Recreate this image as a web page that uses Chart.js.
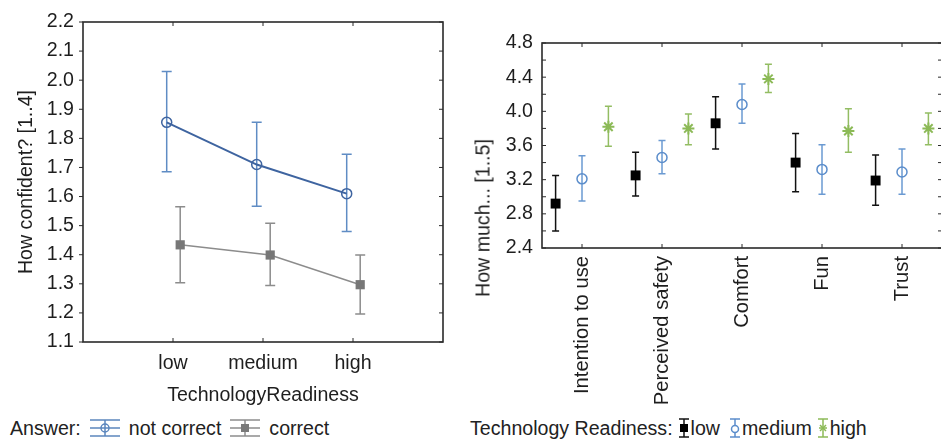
<!DOCTYPE html>
<html>
<head>
<meta charset="utf-8">
<script src="https://cdn.jsdelivr.net/npm/chart.js@4.4.1/dist/chart.umd.min.js"></script>
<style>
  html, body { margin: 0; padding: 0; background: #fff; }
  body { width: 941px; height: 440px; overflow: hidden; position: relative;
         font-family: "Liberation Sans", Arial, sans-serif; color: #222; }
  #left  { position: absolute; left: 0;   top: 0; }
  #right { position: absolute; left: 470px; top: 0; }
  .ytitle { position: absolute; white-space: nowrap; font-size: 19.6px;
            transform: translate(-50%, -50%) rotate(-90deg); }
  .legend { position: absolute; top: 417px; display: flex; align-items: center;
            font-size: 19.6px; white-space: nowrap; line-height: 22px; }
  .legend svg { display: block; }
</style>
</head>
<body>
<canvas id="left" width="470" height="410"></canvas>
<canvas id="right" width="480" height="410"></canvas>
<div class="ytitle" style="left:483px; top:218px;">How much... [1..5]</div>

<div class="legend" style="left:10px;">
  <span>Answer:</span>
  <svg width="32" height="22" style="margin:0 8px 0 8px">
    <g stroke="#5b86bd" stroke-width="1.5" fill="none">
      <line x1="1" y1="3" x2="31" y2="3"/><line x1="1" y1="19" x2="31" y2="19"/>
      <line x1="1" y1="11" x2="31" y2="11"/><line x1="16" y1="3" x2="16" y2="19"/>
      <circle cx="16" cy="11" r="4"/>
    </g>
  </svg>
  <span>not correct</span>
  <svg width="32" height="22" style="margin:0 8px 0 8px">
    <g stroke="#8c8c8c" stroke-width="1.5" fill="none">
      <line x1="1" y1="3" x2="31" y2="3"/><line x1="1" y1="19" x2="31" y2="19"/>
      <line x1="1" y1="11" x2="31" y2="11"/><line x1="16" y1="3" x2="16" y2="19"/>
    </g>
    <rect x="12" y="7" width="8" height="8" fill="#7a7a7a"/>
  </svg>
  <span>correct</span>
</div>

<div class="legend" style="left:470px;">
  <span>Technology Readiness:</span>
  <svg width="12" height="22" style="margin:0 1px 0 5px">
    <g stroke="#111" stroke-width="1.5"><line x1="1" y1="2" x2="11" y2="2"/><line x1="1" y1="20" x2="11" y2="20"/><line x1="6" y1="2" x2="6" y2="20"/></g>
    <rect x="2" y="7" width="8" height="8" fill="#000"/>
  </svg>
  <span>low</span>
  <svg width="12" height="22" style="margin:0 1px 0 9px">
    <g stroke="#5b8dcb" stroke-width="1.5" fill="none"><line x1="1" y1="2" x2="11" y2="2"/><line x1="1" y1="20" x2="11" y2="20"/><line x1="6" y1="2" x2="6" y2="20"/><circle cx="6" cy="12" r="3.5" fill="#fff"/></g>
  </svg>
  <span>medium</span>
  <svg width="12" height="22" style="margin:0 1px 0 5px">
    <g stroke="#8cba57" stroke-width="1.5"><line x1="1" y1="2" x2="11" y2="2"/><line x1="1" y1="20" x2="11" y2="20"/><line x1="6" y1="2" x2="6" y2="20"/>
    <line x1="2" y1="11" x2="10" y2="11"/><line x1="3" y1="8" x2="9" y2="14"/><line x1="9" y1="8" x2="3" y2="14"/></g>
  </svg>
  <span>high</span>
</div>

<script>
// ---- left panel: confidence by technology readiness ----
const readinessLevels = ["low", "medium", "high"];
const notCorrectMean  = [1.855, 1.71, 1.61];
const notCorrectLow   = [1.685, 1.567, 1.48];
const notCorrectHigh  = [2.03, 1.855, 1.745];
const correctMean     = [1.434, 1.399, 1.297];
const correctLow      = [1.304, 1.294, 1.196];
const correctHigh     = [1.565, 1.508, 1.399];
const confidenceTicks = { min: 1.1, max: 2.2, step: 0.1 };

// ---- right panel: ratings per aspect ----
const aspects   = ["Intention to use", "Perceived safety", "Comfort", "Fun", "Trust"];
const lowMean   = [2.92, 3.25, 3.86, 3.40, 3.19];
const lowLo     = [2.60, 3.01, 3.56, 3.06, 2.90];
const lowHi     = [3.25, 3.52, 4.17, 3.74, 3.49];
const medMean   = [3.21, 3.46, 4.08, 3.32, 3.29];
const medLo     = [2.95, 3.27, 3.86, 3.03, 3.03];
const medHi     = [3.48, 3.66, 4.32, 3.61, 3.56];
const highMean  = [3.82, 3.80, 4.38, 3.77, 3.80];
const highLo    = [3.59, 3.61, 4.22, 3.52, 3.61];
const highHi    = [4.06, 3.97, 4.55, 4.03, 3.98];
const ratingTicks = { min: 2.4, max: 4.8, step: 0.2, labelStep: 0.4 };

const FONT = { family: "'Liberation Sans', Arial, sans-serif", size: 19.6 };
const ROT_FONT = { family: "'Liberation Sans', Arial, sans-serif", size: 20.2 };
const TEXT = "#1e1e1e";

// error bars drawn under the markers, from per-dataset lo/hi arrays
const errorBars = {
  id: "errorBars",
  beforeDatasetsDraw(chart) {
    const { ctx, scales: { y } } = chart;
    chart.data.datasets.forEach((ds, i) => {
      const meta = chart.getDatasetMeta(i);
      ctx.save();
      ctx.strokeStyle = ds.errColor;
      ctx.lineWidth = ds.errWidth || 1.5;
      meta.data.forEach((pt, j) => {
        const t = y.getPixelForValue(ds.errHi[j]);
        const b = y.getPixelForValue(ds.errLo[j]);
        const c = ds.capHalf;
        ctx.beginPath();
        ctx.moveTo(pt.x, t); ctx.lineTo(pt.x, b);
        ctx.moveTo(pt.x - c, t); ctx.lineTo(pt.x + c, t);
        ctx.moveTo(pt.x - c, b); ctx.lineTo(pt.x + c, b);
        ctx.stroke();
      });
      ctx.restore();
    });
  },
};

// box around the plot with small tick marks on every side
const frame = {
  id: "frame",
  afterDraw(chart, args, opts) {
    const { ctx, chartArea: a, scales: { x, y } } = chart;
    const len = 4;
    ctx.save();
    ctx.strokeStyle = "#2a2a2a";
    ctx.lineWidth = 1.6;
    ctx.strokeRect(a.left, a.top, a.right - a.left, a.bottom - a.top);
    ctx.lineWidth = 1;
    ctx.beginPath();
    x.ticks.forEach(t => {
      const px = x.getPixelForValue(t.value);
      ctx.moveTo(px, a.bottom); ctx.lineTo(px, a.bottom - len);
      ctx.moveTo(px, a.top);    ctx.lineTo(px, a.top + len);
    });
    y.ticks.forEach(t => {
      const py = y.getPixelForValue(t.value);
      const d = opts.leftOut ? -len : len;
      ctx.moveTo(a.left, py);  ctx.lineTo(a.left + d, py);
      ctx.moveTo(a.right, py); ctx.lineTo(a.right - len, py);
    });
    ctx.stroke();
    ctx.restore();
  },
};

const pts = (vals, shift) => vals.map((v, i) => ({ x: i + 1 + shift, y: v }));
const categoryTicks = n => s => { s.ticks = Array.from({ length: n }, (_, i) => ({ value: i + 1 })); };

new Chart(document.getElementById("left"), {
  type: "scatter",
  data: {
    datasets: [
      {
        label: "not correct", data: pts(notCorrectMean, -0.07), showLine: true,
        borderColor: "#3e64a0", borderWidth: 2,
        pointStyle: "circle", pointRadius: 5, pointBorderWidth: 1.5,
        pointBorderColor: "#3e64a0", pointBackgroundColor: "rgba(0,0,0,0)",
        errLo: notCorrectLow, errHi: notCorrectHigh, errColor: "#5f8cc4", capHalf: 5,
      },
      {
        label: "correct", data: pts(correctMean, 0.08), showLine: true,
        borderColor: "#8c8c8c", borderWidth: 1.5,
        pointStyle: "rect", pointRadius: 6.5, pointBorderWidth: 0,
        pointBackgroundColor: "#777", pointBorderColor: "#777",
        errLo: correctLow, errHi: correctHigh, errColor: "#8c8c8c", capHalf: 5,
      },
    ],
  },
  options: {
    responsive: false, animation: false,
    layout: { padding: { top: 22, right: 27, left: 0, bottom: 0 } },
    plugins: { legend: { display: false }, tooltip: { enabled: false }, frame: { leftOut: true } },
    scales: {
      x: {
        type: "linear", min: 0, max: 4,
        afterBuildTicks: categoryTicks(readinessLevels.length),
        afterFit: s => { s.height = 68; },
        grid: { display: false, drawTicks: false }, border: { display: false },
        ticks: { color: TEXT, font: FONT, padding: 10, callback: v => readinessLevels[v - 1] },
        title: { display: true, text: "TechnologyReadiness", color: TEXT, font: FONT, padding: { top: 0, bottom: 3 } },
      },
      y: {
        min: confidenceTicks.min, max: confidenceTicks.max,
        afterFit: s => { s.width = 83; },
        grid: { display: false, drawTicks: false }, border: { display: false },
        ticks: { stepSize: confidenceTicks.step, color: TEXT, font: FONT, padding: 9, callback: v => v.toFixed(1) },
        title: { display: true, text: "How confident? [1..4]", color: TEXT, font: FONT, padding: { top: 15, bottom: 0 } },
      },
    },
  },
  plugins: [errorBars, frame],
});

const ratingSet = (label, mean, lo, hi, shift, style) => Object.assign({
  label, data: pts(mean, shift), showLine: false, errLo: lo, errHi: hi,
}, style);

new Chart(document.getElementById("right"), {
  type: "scatter",
  data: {
    datasets: [
      ratingSet("low", lowMean, lowLo, lowHi, -0.33, {
        pointStyle: "rect", pointRadius: 7, pointBorderWidth: 0,
        pointBackgroundColor: "#000", errColor: "#111", capHalf: 3.5,
      }),
      ratingSet("medium", medMean, medLo, medHi, 0, {
        pointStyle: "circle", pointRadius: 5, pointBorderWidth: 1.5,
        pointBorderColor: "#5b8dcb", pointBackgroundColor: "rgba(0,0,0,0)",
        errColor: "#6b9ad2", capHalf: 3.5,
      }),
      ratingSet("high", highMean, highLo, highHi, 0.33, {
        pointStyle: "star", pointRadius: 6, pointBorderWidth: 2,
        pointBorderColor: "#8cba57", pointBackgroundColor: "#8cba57",
        errColor: "#93bd63", capHalf: 3.5,
      }),
    ],
  },
  options: {
    responsive: false, animation: false,
    layout: { padding: { top: 43, right: 6, left: 0, bottom: 0 } },
    plugins: { legend: { display: false }, tooltip: { enabled: false }, frame: { leftOut: false } },
    scales: {
      x: {
        type: "linear", min: 0.5, max: 5.5,
        afterBuildTicks: categoryTicks(aspects.length),
        afterFit: s => { s.height = 162; },
        grid: { display: false, drawTicks: false }, border: { display: false },
        ticks: { color: TEXT, font: ROT_FONT, padding: 8, autoSkip: false,
                 minRotation: 90, maxRotation: 90, callback: v => aspects[v - 1] },
      },
      y: {
        min: ratingTicks.min, max: ratingTicks.max,
        afterFit: s => { s.width = 72; },
        grid: { display: false, drawTicks: false }, border: { display: false },
        ticks: {
          stepSize: ratingTicks.step, color: TEXT, font: FONT, padding: 9, autoSkip: false,
          callback: v => {
            const k = (v - ratingTicks.min) / ratingTicks.labelStep;
            return Math.abs(k - Math.round(k)) < 1e-6 ? v.toFixed(1) : "";
          },
        },
      },
    },
  },
  plugins: [errorBars, frame],
});
</script>
</body>
</html>
